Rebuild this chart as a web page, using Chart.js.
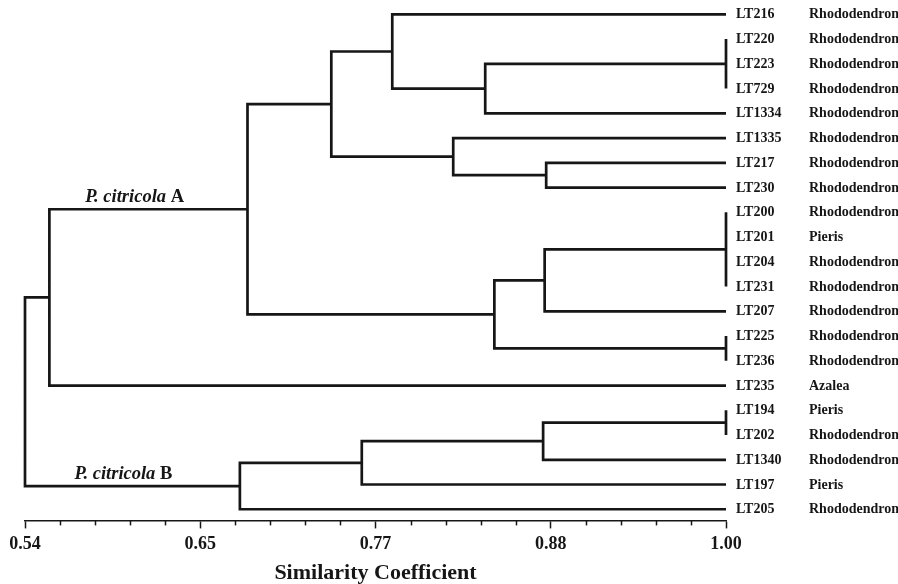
<!DOCTYPE html>
<html>
<head>
<meta charset="utf-8">
<script src="https://cdn.jsdelivr.net/npm/chart.js@4.4.1/dist/chart.umd.min.js"></script>
<style>
  html, body { margin: 0; padding: 0; background: #ffffff; }
  #wrap { width: 898px; height: 584px; position: relative; }
</style>
</head>
<body>
<div id="wrap"><canvas id="c" width="898" height="584"></canvas></div>
<script>
// ---- Data ----
const leaves = ['LT216','LT220','LT223','LT729','LT1334','LT1335','LT217','LT230','LT200','LT201','LT204','LT231','LT207','LT225','LT236','LT235','LT194','LT202','LT1340','LT197','LT205'];
const hosts  = ['Rhododendron','Rhododendron','Rhododendron','Rhododendron','Rhododendron','Rhododendron','Rhododendron','Rhododendron','Rhododendron','Pieris','Rhododendron','Rhododendron','Rhododendron','Rhododendron','Rhododendron','Azalea','Pieris','Rhododendron','Rhododendron','Pieris','Rhododendron'];
// merges: children ids (0..20 = leaves, 21+ = earlier merges in order)
const mergeChildren = [
  [1,2,3],      // 21
  [21,4],       // 22
  [0,22],       // 23
  [6,7],        // 24
  [5,24],       // 25
  [23,25],      // 26
  [8,9,10,11],  // 27
  [27,12],      // 28
  [13,14],      // 29
  [28,29],      // 30
  [26,30],      // 31
  [31,15],      // 32
  [16,17],      // 33
  [33,18],      // 34
  [34,19],      // 35
  [35,20],      // 36
  [32,36]       // 37
];
const mergeSimilarity = [1.00,0.842,0.781,0.882,0.821,0.741,1.00,0.881,1.00,0.848,0.686,0.556,1.00,0.880,0.761,0.681,0.540];
const tickValues = [0.54,0.655,0.77,0.885,1.00];
const tickLabels = ['0.54','0.65','0.77','0.88','1.00'];
const clusterNames = [{species:'P. citricola', group:'A', node:31}, {species:'P. citricola', group:'B', node:36}];
const axisTitle = 'Similarity Coefficient';

// ---- Build dendrogram geometry in data space ----
const nx = [], ny = [];
leaves.forEach((l,i)=>{ nx[i]=1.00; ny[i]=i; });
mergeChildren.forEach((ch,k)=>{
  const id = leaves.length + k;
  nx[id] = mergeSimilarity[k];
  ny[id] = ch.reduce((s,c)=>s+ny[c],0)/ch.length;
});
const segData = [];
mergeChildren.forEach((ch,k)=>{
  const id = leaves.length + k;
  const sorted = ch.slice().sort((a,b)=>ny[a]-ny[b]);
  const first = sorted[0], last = sorted[sorted.length-1];
  segData.push({x:nx[first],y:ny[first]},{x:nx[id],y:ny[first]},{x:nx[id],y:ny[last]},{x:nx[last],y:ny[last]},{x:null,y:null});
  sorted.slice(1,-1).forEach(c=>{
    segData.push({x:nx[c],y:ny[c]},{x:nx[id],y:ny[c]},{x:null,y:null});
  });
});

const INK = '#161616';
const serif = '"Liberation Serif", "Times New Roman", serif';

const labelPlugin = {
  id: 'labels',
  afterDraw(chart) {
    const ctx = chart.ctx, xs = chart.scales.x, ys = chart.scales.y;
    ctx.save();
    ctx.fillStyle = INK;
    ctx.textBaseline = 'middle';
    ctx.textAlign = 'left';
    ctx.font = 'bold 14px ' + serif;
    const right = xs.getPixelForValue(1.00);
    leaves.forEach((l,i)=>{
      const y = ys.getPixelForValue(i);
      ctx.fillText(l, right + 10, y + 0.5);
      ctx.fillText(hosts[i], right + 83, y + 0.5);
    });
    // minor ticks
    ctx.strokeStyle = INK;
    ctx.lineWidth = 1.5;
    const base = xs.top;
    for (let m = 0; m < tickValues.length - 1; m++) {
      for (let j = 1; j < 5; j++) {
        const v = tickValues[m] + (tickValues[m+1]-tickValues[m]) * j / 5;
        const px = Math.round(xs.getPixelForValue(v)) + 0.5;
        ctx.beginPath(); ctx.moveTo(px, base); ctx.lineTo(px, base + 5); ctx.stroke();
      }
    }
    // cluster names
    const offs = [{dx:0.0395, dy:-7}, {dx:0.0325, dy:-7}];
    clusterNames.forEach((c,i)=>{
      const x = xs.getPixelForValue(0.54 + offs[i].dx);
      const y = ys.getPixelForValue(ny[c.node]) + offs[i].dy;
      ctx.textBaseline = 'alphabetic';
      ctx.font = 'italic bold 18.5px ' + serif;
      ctx.fillText(c.species + ' ', x, y);
      const w = ctx.measureText(c.species + ' ').width;
      ctx.font = 'bold 18.5px ' + serif;
      ctx.fillText(c.group, x + w, y);
    });
    ctx.restore();
  }
};

new Chart(document.getElementById('c'), {
  type: 'scatter',
  data: {
    datasets: [{
      data: segData,
      showLine: true,
      spanGaps: false,
      borderColor: INK,
      borderWidth: 2.7,
      pointRadius: 0,
      pointHoverRadius: 0,
      tension: 0,
      borderJoinStyle: 'miter',
      borderCapStyle: 'butt',
      clip: false
    }]
  },
  options: {
    responsive: false,
    animation: false,
    events: [],
    layout: { padding: { left: 25, right: 172, top: 2, bottom: 0 } },
    plugins: { legend: { display: false }, tooltip: { enabled: false } },
    scales: {
      x: {
        type: 'linear',
        min: 0.54, max: 1.00,
        afterBuildTicks: (scale) => { scale.ticks = tickValues.map(v => ({ value: v })); },
        ticks: {
          autoSkip: false, maxRotation: 0, padding: 5,
          color: INK,
          font: { family: serif, size: 18, weight: 'bold' },
          callback: (value, index) => tickLabels[index]
        },
        grid: { drawOnChartArea: false, drawTicks: true, tickLength: 8, tickColor: INK, tickWidth: 1.5 },
        border: { display: true, color: INK, width: 1.5 },
        title: {
          display: true, text: axisTitle, color: INK,
          font: { family: serif, size: 22, weight: 'bold', lineHeight: 1.0 },
          padding: { top: 2, bottom: 0 }
        }
      },
      y: {
        type: 'linear', display: false, reverse: true,
        min: -0.5, max: 20.45
      }
    }
  },
  plugins: [labelPlugin]
});
</script>
</body>
</html>
